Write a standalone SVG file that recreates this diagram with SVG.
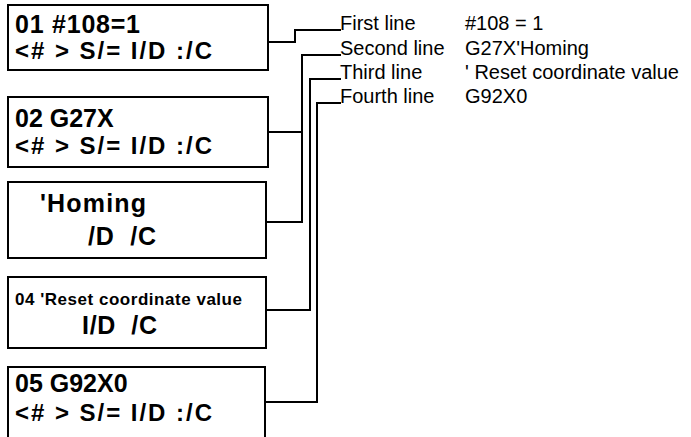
<svg xmlns="http://www.w3.org/2000/svg" width="691" height="437" viewBox="0 0 691 437">
<style>
.box{fill:#fff;stroke:#000;stroke-width:2}
.t1{font-family:"Liberation Sans",Arial,sans-serif;font-weight:bold;font-size:25px;fill:#000}
.t2{font-family:"Liberation Sans",Arial,sans-serif;font-weight:bold;font-size:24px;fill:#000}
.ts{font-family:"Liberation Sans",Arial,sans-serif;font-weight:bold;font-size:17px;fill:#000}
.lbl{font-family:"Liberation Sans",Arial,sans-serif;font-size:20px;fill:#000}
.con{fill:none;stroke:#000;stroke-width:2}
</style>
<rect width="691" height="437" fill="#fff"/>
<g id="box1">
<rect class="box" x="8" y="5" width="260" height="65"/>
<text class="t1" x="15" y="33" textLength="125">01 #108=1</text>
<text class="t2" x="15" y="59" textLength="197">&lt;# &gt; S/= I/D :/C</text>
</g>
<g id="box2">
<rect class="box" x="8" y="97" width="260" height="70"/>
<text class="t1" x="15" y="127">02 G27X</text>
<text class="t2" x="15" y="154" textLength="197">&lt;# &gt; S/= I/D :/C</text>
</g>
<g id="box3">
<rect class="box" x="8" y="182" width="258" height="76"/>
<text class="t1" x="40" y="212" textLength="106">'Homing</text>
<text class="t1" x="88" y="245" textLength="68" xml:space="preserve">/D  /C</text>
</g>
<g id="box4">
<rect class="box" x="8" y="277" width="258" height="71"/>
<text class="ts" x="15" y="305" textLength="227">04 'Reset coordinate value</text>
<text class="t1" x="82" y="334" textLength="75" xml:space="preserve">I/D  /C</text>
</g>
<g id="box5">
<rect class="box" x="8" y="367" width="257" height="80"/>
<text class="t1" x="15" y="392">05 G92X0</text>
<text class="t2" x="15" y="421" textLength="197">&lt;# &gt; S/= I/D :/C</text>
</g>
<g id="labels">
<text class="lbl" x="340" y="30">First line</text>
<text class="lbl" x="465" y="30">#108 = 1</text>
<text class="lbl" x="340" y="55">Second line</text>
<text class="lbl" x="465" y="55">G27X'Homing</text>
<text class="lbl" x="340" y="79">Third line</text>
<text class="lbl" x="465" y="79">' Reset coordinate value</text>
<text class="lbl" x="340" y="103">Fourth line</text>
<text class="lbl" x="465" y="103">G92X0</text>
</g>
<g id="connectors">
<polyline class="con" points="268,42 295,42 295,30 341,30"/>
<polyline class="con" points="341,55 302,55 302,222 266,222"/>
<line class="con" x1="268" y1="132" x2="302" y2="132"/>
<polyline class="con" points="341,79 310,79 310,310 266,310"/>
<polyline class="con" points="341,103 317,103 317,402 265,402"/>
</g>
</svg>
